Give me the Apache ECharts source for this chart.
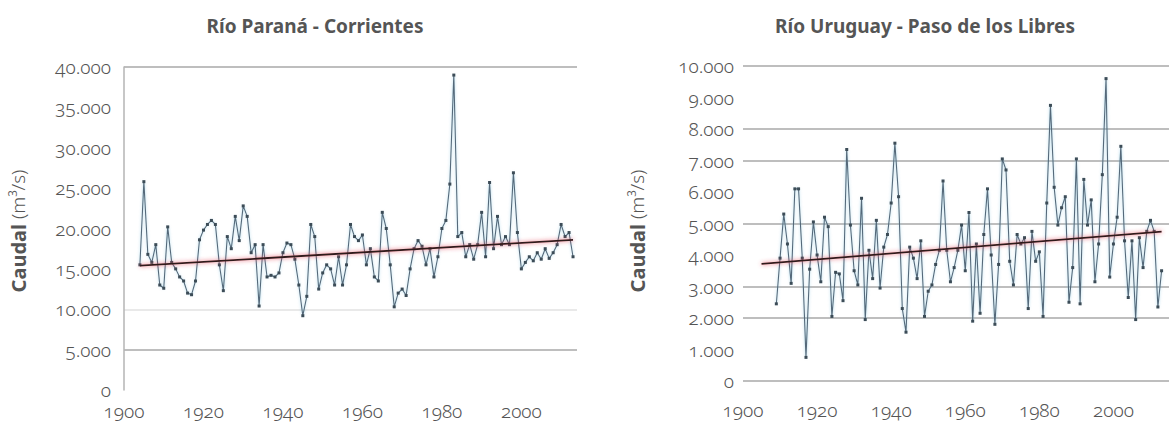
<!DOCTYPE html>
<html><head><meta charset="utf-8">
<script src="https://cdn.jsdelivr.net/npm/echarts@6/dist/echarts.min.js"></script>
<style>
html,body{margin:0;padding:0;background:#fff;}
#c{width:1169px;height:423px;font-variant-numeric:oldstyle-nums;font-feature-settings:"onum" 1;}
#c *, svg text, text, tspan{font-variant-numeric:oldstyle-nums !important;font-feature-settings:"onum" 1 !important;}
</style></head><body><div id="c"></div>
<script>
// ---- data ----
const titleParana = 'Río Paraná - Corrientes';
const titleUruguay = 'Río Uruguay - Paso de los Libres';
const axisNameBold = 'Caudal';
const axisNameUnit = '(m³/s)';

const startParana = 1904;
const caudalParana = [
 15500,25800,16800,15800,18000,13000,12600,20200,15800,15000,
 14000,13500,12000,11800,13500,18600,19800,20500,21000,20500,
 15500,12300,19000,17500,21500,18500,22800,21500,17000,18000,
 10400,18000,14000,14200,14000,14500,17000,18200,18000,16200,
 13000,9200,11600,20500,19000,12500,14500,15500,15000,13000,
 16500,13000,15500,20500,19000,18500,19200,15500,17500,14000,
 13500,22000,20000,15500,10300,12000,12500,11700,15000,17500,
 18500,17800,15500,17500,14000,16500,20000,21000,25500,39000,
 19000,19500,16500,18000,16200,18000,22000,16500,25700,17500,
 21500,18000,19000,18000,26900,19500,15000,15800,16500,16000,
 17000,16200,17500,16300,17000,18000,20500,19000,19500,16500
];
const trendParana = [[1904,15400],[2013,18600]];

const startUruguay = 1909;
const caudalUruguay = [
 2450,3900,5300,4350,3100,6100,6100,3900,750,3550,
 5050,4000,3150,5200,4900,2050,3450,3400,2550,7350,
 4950,3500,3050,5800,1950,4150,3250,5100,2950,4250,
 4650,5650,7550,5850,2300,1550,4250,3900,3250,4450,
 2050,2850,3050,3700,4150,6350,4150,3150,3600,4150,
 4950,3500,5350,1900,4350,2150,4650,6100,4000,1800,
 3700,7050,6700,3800,3050,4650,4350,4550,2300,4750,
 3800,4100,2050,5650,8750,6150,4950,5500,5850,2500,
 3600,7050,2450,6400,4950,5750,3150,4350,6550,9600,
 3300,4350,5200,7450,4450,2650,4450,1950,4550,3600,
 4750,5100,4750,2350,3500
];
const trendUruguay = [[1905,3720],[2013,4740]];

const xTicks = [1900,1920,1940,1960,1980,2000];
const yTicksParana = [0,5000,10000,15000,20000,25000,30000,35000,40000];
const yTicksUruguay = [0,1000,2000,3000,4000,5000,6000,7000,8000,9000,10000];

// ---- helpers ----
const pairs = (start, vals) => vals.map((v, i) => [start + i, v]);
const fmtThousands = v => v === 0 ? '0' : Math.floor(v/1000) + '.' + String(v%1000).padStart(3,'0');
const fmtYear = v => xTicks.indexOf(v) >= 0 ? String(v) : '';
const FONT = '"Noto Sans", "Open Sans", sans-serif';
const labelColor = '#555';
const gridGray = '#a9a9a9';
const gridFaint = '#e2e2e2';
const T = 'rgba(0,0,0,0)';

const chart = echarts.init(document.getElementById('c'), null, {renderer:'svg'});

const nameRich = {
  b: {fontFamily: FONT, fontWeight: 700, fontSize: 20, fill: labelColor},
  u: {fontFamily: FONT, fontWeight: 300, fontSize: 19, fill: labelColor}
};
function axisTitle(x, y){
  return {type: 'text', x: x, y: y, rotation: Math.PI/2, silent: true,
    style: {text: '{b|' + axisNameBold + '} {u|' + axisNameUnit + '}', rich: nameRich,
            fontFamily: FONT, fontSize: 19, fill: labelColor, align: 'center', verticalAlign: 'middle'}};
}
const labelStyle = {fontFamily: FONT, fontWeight: 300, fontSize: 19, lineHeight: 19, color: labelColor};
const xLabelStyle = {fontFamily: FONT, fontWeight: 300, fontSize: 19, lineHeight: 17, color: labelColor};

const dataLine = {
  type: 'line', symbol: 'rect', symbolSize: 3, showSymbol: true,
  lineStyle: {color: '#55697a', width: 1.1, shadowColor: 'rgba(120,190,220,0.6)', shadowBlur: 3},
  itemStyle: {color: '#3c4c57'},
  z: 2, animation: false
};
const trendLine = {
  type: 'line', symbol: 'none',
  lineStyle: {color: '#2e1a1e', width: 1.8, shadowColor: 'rgba(225,60,80,0.85)', shadowBlur: 4},
  z: 3, animation: false
};

chart.setOption({
  backgroundColor: '#fff',
  animation: false,
  title: [
    {text: titleParana, left: 310, top: 11, textAlign: 'center',
     textStyle: {fontFamily: FONT, fontWeight: 700, fontSize: 19, color: labelColor}},
    {text: titleUruguay, left: 920, top: 11, textAlign: 'center',
     textStyle: {fontFamily: FONT, fontWeight: 700, fontSize: 19, color: labelColor}}
  ],
  graphic: [axisTitle(18, 231), axisTitle(637, 231)],
  grid: [
    {left: 124, right: 592, top: 67, bottom: 33},
    {left: 743, right: -10, top: 66, bottom: 42}
  ],
  xAxis: [
    {type: 'value', gridIndex: 0, min: 1900, max: 2014, interval: 20,
     axisLine: {show: false}, axisTick: {show: false}, splitLine: {show: false},
     axisLabel: Object.assign({showMaxLabel: false, margin: 12, formatter: fmtYear}, xLabelStyle)},
    {type: 'value', gridIndex: 1, min: 1900, max: 2015, interval: 20,
     axisLine: {show: false}, axisTick: {show: false}, splitLine: {show: false},
     axisLabel: Object.assign({showMaxLabel: false, margin: 20, formatter: fmtYear}, xLabelStyle)}
  ],
  yAxis: [
    {type: 'value', gridIndex: 0, min: yTicksParana[0], max: yTicksParana[yTicksParana.length-1], interval: 5000,
     axisLine: {show: true, lineStyle: {color: '#b5b5b5', width: 1.5}},
     axisTick: {show: false},
     splitLine: {show: true, lineStyle: {width: 1.5, color: [T, gridGray, gridFaint, T, T, T, T, T, gridGray]}},
     axisLabel: Object.assign({margin: 13, formatter: fmtThousands}, labelStyle)},
    {type: 'value', gridIndex: 1, min: yTicksUruguay[0], max: yTicksUruguay[yTicksUruguay.length-1], interval: 1000,
     axisLine: {show: false}, axisTick: {show: false},
     splitLine: {show: true, lineStyle: {width: 1.5, color: [gridGray, T, gridGray, gridGray, T, gridGray, T, gridGray, gridGray, T, gridGray]}},
     axisLabel: Object.assign({margin: 9, formatter: fmtThousands}, labelStyle)}
  ],
  series: [
    Object.assign({}, dataLine, {xAxisIndex: 0, yAxisIndex: 0, data: pairs(startParana, caudalParana)}),
    Object.assign({}, trendLine, {xAxisIndex: 0, yAxisIndex: 0, data: trendParana}),
    Object.assign({}, dataLine, {xAxisIndex: 1, yAxisIndex: 1, data: pairs(startUruguay, caudalUruguay)}),
    Object.assign({}, trendLine, {xAxisIndex: 1, yAxisIndex: 1, data: trendUruguay})
  ]
});
</script></body></html>
